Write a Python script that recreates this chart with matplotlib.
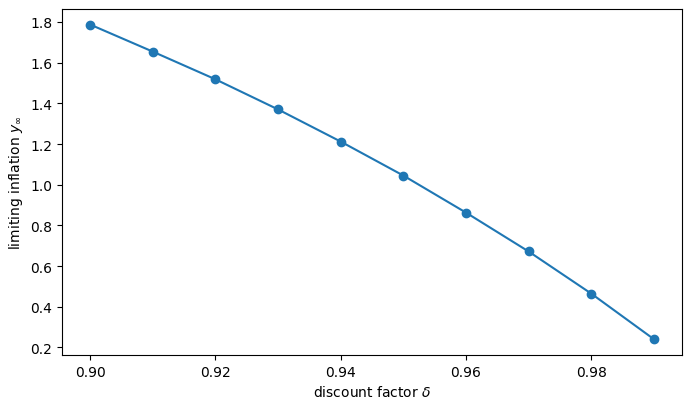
import matplotlib
matplotlib.use("Agg")
import matplotlib.pyplot as plt

# valores
delta = [0.90, 0.91, 0.92, 0.93, 0.94, 0.95, 0.96, 0.97, 0.98, 0.99]
y_inf = [1.787, 1.654, 1.518, 1.370, 1.212, 1.045, 0.863, 0.672, 0.465, 0.241]

fig, ax = plt.subplots(figsize=(6.91, 4.10), dpi=100)
fig.subplots_adjust(left=0.0897, right=0.987, top=0.976, bottom=0.132)

ax.plot(delta, y_inf, marker='o')
ax.set_xlabel(r'discount factor $\delta$')
ax.set_ylabel(r'limiting inflation $y_\infty$')
ax.set_xticks([0.90, 0.92, 0.94, 0.96, 0.98])

fig.savefig('out.png', dpi=100)
